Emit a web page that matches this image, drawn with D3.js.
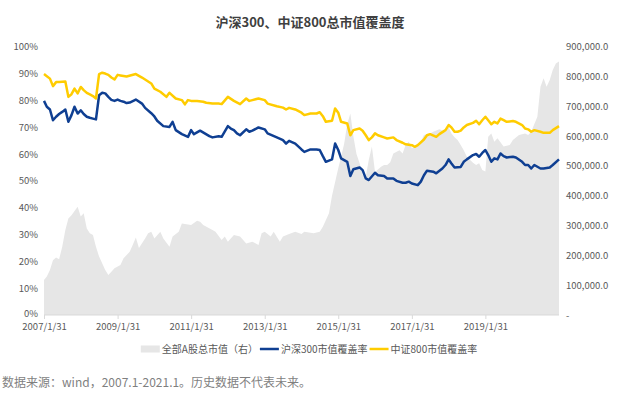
<!DOCTYPE html>
<html>
<head>
<meta charset="utf-8">
<script src="https://cdn.jsdelivr.net/npm/d3@7"></script>
<style>
body { margin: 0; background: #fff; font-family: "Noto Sans CJK SC", "Noto Sans", sans-serif; }
.axis text { fill: #595959; font-size: 9.5px; font-family: "Noto Sans CJK SC", "Noto Sans", sans-serif; }
.legend text { fill: #595959; font-size: 10px; }
</style>
</head>
<body>
<script>
// month index counts from 2007/1 (end of month)
var totalCap = [[0,117],[1,129],[2,151],[3,184],[4,193],[5,187],[6,229],[7,285],[8,324],[9,335],[11,363],[12,330],[13,341],[14,290],[15,274],[16,268],[17,229],[18,196],[20,151],[21,134],[22,145],[23,157],[25,168],[26,190],[28,212],[29,235],[30,260],[31,225],[33,257],[34,274],[35,279],[36,257],[38,279],[39,257],[41,229],[42,263],[44,279],[45,307],[46,305],[48,302],[50,316],[51,313],[52,302],[55,285],[56,279],[58,252],[59,263],[60,246],[62,268],[64,263],[66,240],[68,246],[70,235],[71,274],[72,279],[74,263],[75,279],[77,246],[78,263],[80,272],[82,279],[84,272],[85,279],[87,276],[88,274],[90,279],[91,296],[93,341],[94,400],[96,492],[97,530],[98,575],[99,640],[100,676],[101,600],[102,540],[103,509],[104,470],[105,464],[106,520],[107,565],[108,480],[110,497],[111,503],[112,503],[113,512],[114,542],[116,553],[117,542],[118,570],[119,581],[120,559],[121,567],[123,581],[124,604],[126,609],[127,615],[129,623],[131,615],[132,630],[133,609],[134,596],[135,587],[136,570],[137,553],[138,531],[140,511],[141,503],[142,509],[143,486],[144,481],[145,598],[146,609],[147,581],[148,593],[150,565],[152,570],[153,587],[155,604],[157,609],[158,604],[159,615],[161,665],[162,766],[163,794],[164,766],[165,788],[166,822],[167,844],[168,850]];

var hs300 = [[0,79.8],[1,77.6],[2,76.6],[3,72.6],[4,73.9],[5,74.9],[6,75.7],[7,76.6],[8,72.0],[9,74.5],[10,77.6],[11,75.1],[12,76.3],[13,74.9],[14,73.9],[15,73.5],[16,73.2],[17,72.9],[18,81.9],[19,82.8],[20,82.6],[21,81.3],[22,80.2],[23,79.8],[24,80.3],[25,79.8],[26,79.5],[27,79.0],[28,79.2],[30,80.3],[32,78.8],[33,77.2],[35,75.2],[36,74.0],[37,72.4],[39,70.4],[41,70.1],[42,72.0],[43,68.9],[45,67.4],[47,66.4],[48,68.9],[49,67.4],[51,68.7],[54,66.7],[55,66.2],[57,66.6],[58,66.4],[60,70.4],[61,69.5],[62,68.9],[63,67.7],[64,67.0],[66,69.2],[67,68.3],[68,68.7],[70,69.9],[72,69.2],[73,67.7],[76,66.2],[78,65.2],[79,63.9],[80,64.9],[82,63.9],[84,61.7],[85,60.8],[87,61.7],[89,61.7],[90,61.5],[91,59.2],[92,57.1],[94,58.0],[95,63.9],[96,61.5],[97,58.4],[99,57.1],[100,51.8],[101,54.3],[103,55.0],[104,54.0],[105,50.9],[106,50.3],[108,53.0],[109,52.1],[111,51.8],[112,50.9],[114,50.9],[115,50.0],[117,49.3],[118,49.3],[119,49.7],[120,49.0],[122,48.4],[123,49.7],[124,52.1],[125,53.8],[127,53.4],[128,52.8],[130,54.6],[131,55.9],[132,58.0],[133,56.5],[134,55.0],[136,55.2],[137,57.1],[138,58.0],[140,59.6],[141,60.0],[142,59.0],[143,60.4],[144,61.5],[145,59.6],[146,57.1],[147,58.4],[148,58.0],[149,60.2],[150,59.2],[151,58.7],[153,59.0],[154,58.7],[156,57.1],[157,55.9],[158,55.9],[159,54.6],[160,55.9],[162,54.6],[163,54.6],[165,55.0],[166,55.9],[168,58.0]];

var csi800 = [[0,89.8],[1,89.0],[2,88.1],[3,85.3],[4,86.8],[5,86.8],[6,86.9],[7,87.0],[8,81.3],[9,82.3],[10,84.4],[11,82.6],[12,85.0],[13,83.8],[14,82.8],[15,82.2],[16,81.6],[17,80.7],[18,89.8],[19,90.3],[20,90.0],[21,89.5],[22,88.5],[23,87.8],[24,89.5],[25,89.3],[26,89.1],[27,88.9],[30,89.8],[32,88.5],[35,86.3],[36,84.4],[38,83.2],[40,81.3],[41,82.8],[43,80.7],[45,80.1],[46,78.5],[47,80.1],[48,79.8],[50,79.8],[52,79.5],[53,79.1],[55,78.8],[57,78.8],[58,78.6],[60,81.3],[62,79.8],[64,78.6],[66,80.7],[67,79.8],[68,80.1],[70,80.7],[72,80.1],[73,78.8],[76,77.8],[78,77.3],[79,76.6],[80,77.2],[82,76.6],[84,75.4],[85,74.5],[87,75.1],[89,75.1],[90,75.6],[91,74.1],[92,72.0],[94,72.4],[95,77.0],[96,75.4],[97,72.0],[99,71.4],[100,67.0],[101,68.9],[103,69.5],[104,68.7],[105,67.0],[106,65.2],[107,66.2],[108,67.7],[109,67.0],[111,66.2],[112,65.8],[114,66.2],[115,65.2],[117,64.2],[118,63.6],[120,63.3],[121,62.7],[122,63.3],[124,65.4],[125,67.0],[126,67.4],[128,66.4],[129,67.4],[131,68.9],[132,70.8],[133,69.9],[134,68.3],[135,68.3],[136,68.7],[137,69.9],[138,70.8],[140,71.6],[141,72.4],[142,71.1],[143,72.6],[144,73.9],[145,72.6],[146,71.1],[147,72.0],[148,71.4],[149,73.2],[150,72.6],[151,72.0],[153,72.3],[154,72.0],[156,70.8],[157,69.5],[158,69.2],[159,68.3],[160,68.9],[162,68.3],[163,67.9],[165,67.9],[166,68.9],[168,70.4]];

var leftTicks = [0,10,20,30,40,50,60,70,80,90,100];
var rightTicks = [0,100,200,300,400,500,600,700,800,900];  // thousands
var xTickLabels = ["2007/1/31","2009/1/31","2011/1/31","2013/1/31","2015/1/31","2017/1/31","2019/1/31"];
var seriesNames = ["全部A股总市值（右）","沪深300市值覆盖率","中证800市值覆盖率"];
var colors = ["#e6e6e6","#0f3f92","#ffcc00"];

var width = 618, height = 395;
var plotL = 44, plotR = 559, plotT = 46.7, plotB = 315;

function monthEnd(m){
  return d3.timeDay.offset(d3.timeMonth.offset(new Date(2007,0,1), m + 1), -1);
}

var svg = d3.select("body").append("svg")
    .attr("width", width)
    .attr("height", height);

var x = d3.scaleTime().domain([monthEnd(0), monthEnd(168)]).range([plotL, plotR]);
var yL = d3.scaleLinear().domain([0,100]).range([plotB, plotT]);
var yR = d3.scaleLinear().domain([0,900]).range([plotB, plotT]);

// title
svg.append("text")
    .attr("x", 310).attr("y", 27)
    .attr("text-anchor", "middle")
    .style("font-size", "13px").style("font-weight", "bold").style("fill", "#404040")
    .text("沪深300、中证800总市值覆盖度");

// area (right axis)
var area = d3.area()
    .x(function(d){ return x(monthEnd(d[0])); })
    .y0(plotB)
    .y1(function(d){ return yR(d[1]); });

svg.append("path")
    .datum(totalCap)
    .attr("d", area)
    .style("fill", colors[0]);

var line = d3.line()
    .x(function(d){ return x(monthEnd(d[0])); })
    .y(function(d){ return yL(d[1]); });

[hs300, csi800].forEach(function(s, i){
  svg.append("path")
      .datum(s)
      .attr("d", line)
      .style("fill", "none")
      .style("stroke", colors[i + 1])
      .style("stroke-width", 2.5)
      .style("stroke-linejoin", "round");
});

// axes
var yAxisL = svg.append("g").attr("class", "axis")
    .attr("transform", "translate(" + plotL + ",0)")
    .call(d3.axisLeft(yL).tickValues(leftTicks).tickSize(0).tickPadding(6)
      .tickFormat(function(d){ return d + "%"; }));
yAxisL.select(".domain").remove();
yAxisL.selectAll(".tick text").filter(function(d){ return d === 0; }).attr("dy", "0.2em");

var yAxisR = svg.append("g").attr("class", "axis")
    .attr("transform", "translate(" + plotR + ",0)")
    .call(d3.axisRight(yR).tickValues(rightTicks).tickSize(0).tickPadding(7)
      .tickFormat(function(d){ return d === 0 ? "-" : d3.format(",.1f")(d * 1000); }));
yAxisR.select(".domain").remove();

var parseTick = d3.timeParse("%Y/%m/%d");
var xAxis = svg.append("g").attr("class", "axis")
    .attr("transform", "translate(0," + plotB + ")")
    .call(d3.axisBottom(x).tickValues(xTickLabels.map(parseTick)).tickSize(4).tickPadding(4.5)
      .tickFormat(function(d, i){ return xTickLabels[i]; }));
xAxis.select(".domain").attr("d", "M" + plotL + ",0H" + plotR).style("stroke", "#d9d9d9");
xAxis.selectAll(".tick line").style("stroke", "#d9d9d9");

// legend, laid out from measured text widths and centred
var legend = svg.append("g").attr("class", "legend");
var lx = 0;
seriesNames.forEach(function(name, i){
  if (i === 0) {
    legend.append("rect").attr("x", lx).attr("y", -3.5).attr("width", 19).attr("height", 7).style("fill", colors[0]);
  } else {
    legend.append("line").attr("x1", lx).attr("x2", lx + 19).style("stroke", colors[i]).style("stroke-width", 2.5);
  }
  var t = legend.append("text").attr("x", lx + 21).attr("dy", "0.35em").text(name);
  lx += 21 + t.node().getComputedTextLength() + 2;
});
legend.attr("transform", "translate(" + (310 - lx / 2) + ",349)");

// source note
svg.append("text")
    .attr("x", 2).attr("y", 387)
    .style("font-size", "12px").style("fill", "#7f7f7f")
    .text("数据来源：wind，2007.1-2021.1。历史数据不代表未来。");
</script>
</body>
</html>
